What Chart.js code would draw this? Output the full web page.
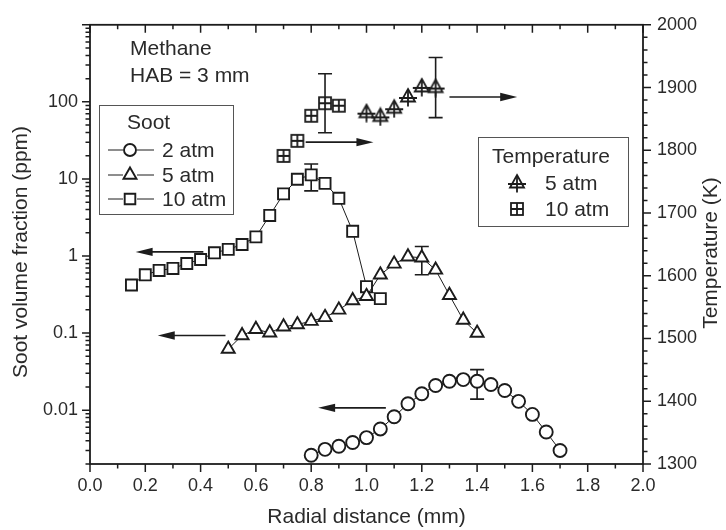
<!DOCTYPE html>
<html>
<head>
<meta charset="utf-8">
<script src="https://cdn.jsdelivr.net/npm/chart.js@4.4.1/dist/chart.umd.min.js"></script>
<style>
  html, body { margin: 0; padding: 0; background: #fff; }
</style>
</head>
<body>
<canvas id="chart" width="726" height="530"></canvas>
<script>
// Soot volume fraction (ppm), left log axis
const soot2X = [0.8, 0.85, 0.9, 0.95, 1.0, 1.05, 1.1, 1.15, 1.2, 1.25, 1.3, 1.35, 1.4, 1.45, 1.5, 1.55, 1.6, 1.65, 1.7];
const soot2Y = [0.0026, 0.0031, 0.0034, 0.0038, 0.0044, 0.0057, 0.0082, 0.0121, 0.0163, 0.0209, 0.0237, 0.0249, 0.0237, 0.0215, 0.018, 0.013, 0.0088, 0.0052, 0.0030];
const soot5X = [0.5, 0.55, 0.6, 0.65, 0.7, 0.75, 0.8, 0.85, 0.9, 0.95, 1.0, 1.05, 1.1, 1.15, 1.2, 1.25, 1.3, 1.35, 1.4];
const soot5Y = [0.062, 0.093, 0.112, 0.101, 0.121, 0.129, 0.143, 0.16, 0.20, 0.265, 0.30, 0.57, 0.79, 0.98, 0.95, 0.66, 0.31, 0.148, 0.10];
const soot10X = [0.15, 0.2, 0.25, 0.3, 0.35, 0.4, 0.45, 0.5, 0.55, 0.6, 0.65, 0.7, 0.75, 0.8, 0.85, 0.9, 0.95, 1.0, 1.05];
const soot10Y = [0.42, 0.57, 0.65, 0.69, 0.80, 0.90, 1.10, 1.22, 1.41, 1.77, 3.36, 6.4, 9.9, 11.3, 8.75, 5.6, 2.09, 0.40, 0.28];

// Temperature (K), right axis
const temp5X = [1.0, 1.05, 1.1, 1.15, 1.2, 1.25];
const temp5Y = [1860, 1854, 1867, 1885, 1901, 1900];
const temp10X = [0.7, 0.75, 0.8, 0.85, 0.9];
const temp10Y = [1791, 1815, 1855, 1875, 1871];

// error bars
const errX = [1.4, 1.2, 0.8, 0.85, 1.25];
const errY = [0.0237, 0.95, 11.3, 1875, 1900];
const errHalf = [0.0098, 0.38, 4.3, 47, 48];
const errAxis = ['y', 'y', 'y', 'y2', 'y2'];

// arrows pointing to the axis each series belongs to
const arrowFrom = [0.41, 0.49, 1.07, 0.78, 1.30];
const arrowTo = [0.165, 0.245, 0.825, 1.025, 1.545];
const arrowY = [1.13, 0.093, 0.0107, 1813, 1885];
const arrowAxis = ['y', 'y', 'y', 'y2', 'y2'];

// tick labels
const xLabels = ['0.0', '0.2', '0.4', '0.6', '0.8', '1.0', '1.2', '1.4', '1.6', '1.8', '2.0'];
const yLabelVals = [0.01, 0.1, 1, 10, 100];
const yLabels = ['0.01', '0.1', '1', '10', '100'];

const ink = '#1c1c1c';
const txt = '#2a2a2a';
const FONT = '"Liberation Sans", Arial, sans-serif';

function glyph(kind) {
  const c = document.createElement('canvas');
  c.width = 20; c.height = 20;
  const g = c.getContext('2d');
  g.strokeStyle = ink; g.lineWidth = 1.8; g.fillStyle = '#fff';
  if (kind === 'square') {
    g.fillRect(4, 4, 12, 12);
    g.strokeRect(4, 4, 12, 12);
    g.beginPath();
    g.moveTo(10, 4); g.lineTo(10, 16);
    g.moveTo(4, 10); g.lineTo(16, 10);
    g.stroke();
  } else {
    g.beginPath();
    g.moveTo(10, 2); g.lineTo(17, 14.5); g.lineTo(3, 14.5); g.closePath();
    g.fill(); g.stroke();
    g.beginPath();
    g.moveTo(10, 2); g.lineTo(10, 19.5);
    g.moveTo(1, 11); g.lineTo(19, 11);
    g.stroke();
  }
  return c;
}
const triCross = glyph('tri');
const sqCross = glyph('square');

const pts = (xs, ys) => xs.map((x, i) => ({ x: x, y: ys[i] }));

const sootStyle = (style, r) => ({
  yAxisID: 'y', showLine: true, borderColor: ink, borderWidth: 1,
  pointStyle: style, pointRadius: r, pointBorderWidth: 1.9,
  pointBackgroundColor: '#fff', pointBorderColor: ink
});

const decorations = {
  id: 'decorations',
  beforeDatasetsDraw(chart) {
    const { ctx, scales } = chart;
    ctx.save();
    ctx.strokeStyle = ink; ctx.fillStyle = ink; ctx.lineWidth = 1.6;
    // error bars
    errX.forEach((x, i) => {
      const s = scales[errAxis[i]];
      const px = scales.x.getPixelForValue(x);
      const top = s.getPixelForValue(errY[i] + errHalf[i]);
      const bot = s.getPixelForValue(errY[i] - errHalf[i]);
      ctx.beginPath();
      ctx.moveTo(px, top); ctx.lineTo(px, bot);
      ctx.moveTo(px - 7, top); ctx.lineTo(px + 7, top);
      ctx.moveTo(px - 7, bot); ctx.lineTo(px + 7, bot);
      ctx.stroke();
    });
    // arrows
    arrowFrom.forEach((x0, i) => {
      const s = scales[arrowAxis[i]];
      const a = scales.x.getPixelForValue(x0);
      const b = scales.x.getPixelForValue(arrowTo[i]);
      const py = s.getPixelForValue(arrowY[i]);
      const dir = Math.sign(b - a);
      ctx.beginPath();
      ctx.moveTo(a, py); ctx.lineTo(b - dir * 14, py);
      ctx.stroke();
      ctx.beginPath();
      ctx.moveTo(b, py);
      ctx.lineTo(b - dir * 17, py - 4.2);
      ctx.lineTo(b - dir * 17, py + 4.2);
      ctx.closePath();
      ctx.fill();
    });
    ctx.restore();
  },
  afterDraw(chart) {
    const { ctx, chartArea: a, scales } = chart;
    ctx.save();
    // frame
    ctx.strokeStyle = ink; ctx.lineWidth = 1.8;
    ctx.strokeRect(a.left, a.top, a.right - a.left, a.bottom - a.top);
    // ticks
    ctx.lineWidth = 1.5;
    ctx.beginPath();
    for (let i = 0; i <= 20; i++) {
      const px = scales.x.getPixelForValue(i / 10);
      const len = i % 2 === 0 ? 8 : 4.5;
      ctx.moveTo(px, a.bottom); ctx.lineTo(px, a.bottom + len);
      ctx.moveTo(px, a.top); ctx.lineTo(px, a.top + len);
    }
    for (let e = -3; e <= 3; e++) {
      for (let m = 1; m <= 9; m++) {
        const v = m * Math.pow(10, e);
        if (v < 0.0019 || v > 1001) continue;
        const py = scales.y.getPixelForValue(v);
        ctx.moveTo(a.left, py); ctx.lineTo(a.left - (m === 1 ? 8 : 4.5), py);
      }
    }
    for (let t = 1300; t <= 2000; t += 20) {
      const py = scales.y2.getPixelForValue(t);
      ctx.moveTo(a.right, py); ctx.lineTo(a.right + (t % 100 === 0 ? 8 : 4.5), py);
    }
    ctx.stroke();

    ctx.fillStyle = txt;
    ctx.textBaseline = 'middle';
    ctx.font = '21px ' + FONT;

    // vertical axis titles (both read bottom to top)
    ctx.save();
    ctx.textAlign = 'center';
    ctx.translate(21, 252);
    ctx.rotate(-Math.PI / 2);
    ctx.fillText('Soot volume fraction (ppm)', 0, 0);
    ctx.restore();
    ctx.save();
    ctx.textAlign = 'center';
    ctx.translate(711, 253);
    ctx.rotate(-Math.PI / 2);
    ctx.fillText('Temperature (K)', 0, 0);
    ctx.restore();

    // annotation
    ctx.fillText('Methane', 130, 49);
    ctx.fillText('HAB = 3 mm', 130, 76);

    // soot legend
    ctx.strokeStyle = '#555'; ctx.lineWidth = 1;
    ctx.strokeRect(99.5, 105.5, 134, 109);
    ctx.fillText('Soot', 127, 123);
    const rows = [['circle', 6, '2 atm', 150], ['triangle', 7.5, '5 atm', 175], ['rect', 7.5, '10 atm', 199]];
    rows.forEach(([st, r, label, y]) => {
      ctx.strokeStyle = ink; ctx.lineWidth = 1;
      ctx.beginPath();
      ctx.moveTo(108, y); ctx.lineTo(123, y);
      ctx.moveTo(137, y); ctx.lineTo(154, y);
      ctx.stroke();
      ctx.fillStyle = '#fff'; ctx.lineWidth = 1.9;
      Chart.helpers.drawPoint(ctx, { pointStyle: st, radius: r, rotation: 0, borderWidth: 1.9 }, 130, y);
      ctx.fillStyle = txt;
      ctx.fillText(label, 162, y + 1);
    });

    // temperature legend
    ctx.strokeStyle = '#555'; ctx.lineWidth = 1;
    ctx.strokeRect(478.5, 137.5, 150, 89);
    ctx.fillText('Temperature', 492, 157);
    ctx.drawImage(triCross, 507, 173);
    ctx.fillText('5 atm', 545, 184);
    ctx.drawImage(sqCross, 507, 199);
    ctx.fillText('10 atm', 545, 210);
    ctx.restore();
  }
};

new Chart(document.getElementById('chart').getContext('2d'), {
  type: 'scatter',
  data: {
    datasets: [
      Object.assign({ label: '2 atm', data: pts(soot2X, soot2Y) }, sootStyle('circle', 6.5)),
      Object.assign({ label: '5 atm', data: pts(soot5X, soot5Y) }, sootStyle('triangle', 7.5)),
      Object.assign({ label: '10 atm', data: pts(soot10X, soot10Y) }, sootStyle('rect', 7.8)),
      { label: 'T 5 atm', data: pts(temp5X, temp5Y), yAxisID: 'y2', showLine: false, pointStyle: triCross, pointRadius: 10 },
      { label: 'T 10 atm', data: pts(temp10X, temp10Y), yAxisID: 'y2', showLine: false, pointStyle: sqCross, pointRadius: 10 }
    ]
  },
  options: {
    responsive: false,
    animation: false,
    layout: { padding: { top: 18, left: 0, right: 0, bottom: 0 } },
    plugins: { legend: { display: false }, tooltip: { enabled: false } },
    scales: {
      x: {
        type: 'linear', position: 'bottom', min: 0, max: 2,
        grid: { display: false, drawTicks: false }, border: { display: false },
        ticks: {
          stepSize: 0.2, autoSkip: false, maxRotation: 0, padding: 11, color: txt,
          font: { family: FONT, size: 18 },
          callback: v => xLabels[Math.round(v * 5)]
        },
        title: { display: true, text: 'Radial distance (mm)', color: txt, font: { family: FONT, size: 21 }, padding: { top: 0, bottom: 0 } },
        afterFit(s) { s.height = 66; }
      },
      y: {
        type: 'logarithmic', position: 'left', min: 0.002, max: 1000,
        grid: { display: false, drawTicks: false }, border: { display: false },
        ticks: {
          autoSkip: false, padding: 12, color: txt,
          font: { family: FONT, size: 18 },
          callback: v => {
            const i = yLabelVals.findIndex(t => Math.abs(t - v) / t < 1e-6);
            return i >= 0 ? yLabels[i] : '';
          }
        },
        afterFit(s) { s.width = 90; }
      },
      y2: {
        type: 'linear', position: 'right', min: 1300, max: 2000,
        grid: { display: false, drawTicks: false }, border: { display: false },
        ticks: {
          stepSize: 100, autoSkip: false, padding: 14, color: txt,
          font: { family: FONT, size: 18 },
          callback: v => String(v)
        },
        afterFit(s) { s.width = 83; }
      }
    }
  },
  plugins: [decorations]
});
</script>
</body>
</html>
